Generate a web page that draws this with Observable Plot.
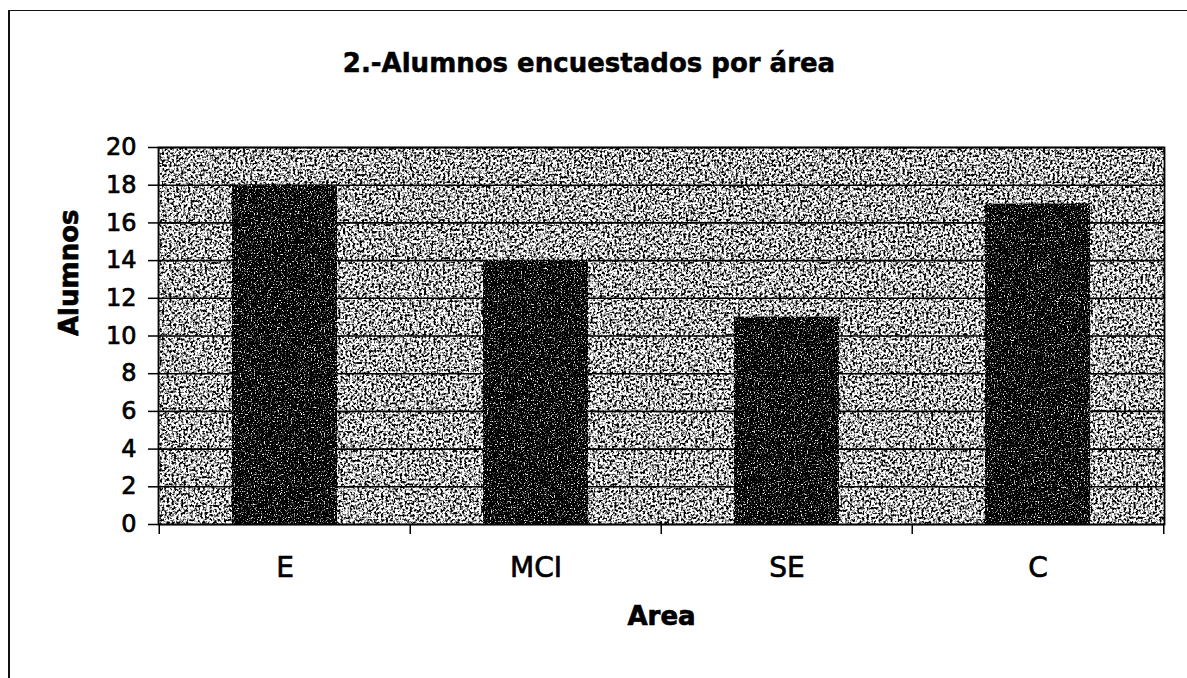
<!DOCTYPE html>
<html>
<head>
<meta charset="utf-8">
<script src="https://cdn.jsdelivr.net/npm/d3@7"></script>
<script src="https://cdn.jsdelivr.net/npm/@observablehq/plot@0.6"></script>
<style>
  html, body { margin: 0; padding: 0; background: white; }
  body { width: 1187px; height: 678px; position: relative; overflow: hidden; font-family: "DejaVu Sans", sans-serif; }
  #border { position: absolute; left: 8px; top: 10px; right: -10px; bottom: -10px; border-left: 2px solid #111; border-top: 1.5px solid #111; pointer-events: none; }
  #title { position: absolute; left: 0; top: 50px; width: 1178px; text-align: center; font-size: 26px; font-weight: bold; line-height: 1; color: #000; -webkit-text-stroke: 0.5px #000; }
  #chart { position: absolute; left: 0; top: 0; }
  #chart svg text { stroke: #000 !important; stroke-width: 0.7px !important; }
</style>
</head>
<body>
<div id="chart"></div>
<div id="title"></div>
<div id="border"></div>
<script>
const titleText = "2.-Alumnos encuestados por área";
const xLabel = "Area";
const yLabel = "Alumnos";
const categories = ["E", "MCI", "SE", "C"];
const alumnos = [18, 14, 11, 17];
const yTicks = [0, 2, 4, 6, 8, 10, 12, 14, 16, 18, 20];

document.getElementById("title").textContent = titleText;

const data = categories.map((c, i) => ({area: c, alumnos: alumnos[i]}));

const W = 1187, H = 678;
const mL = 158, mR = 23, mT = 147, mB = 154;
const step = (W - mL - mR) / categories.length;

const chart = Plot.plot({
  width: W,
  height: H,
  marginLeft: mL,
  marginRight: mR,
  marginTop: mT,
  marginBottom: mB,
  style: {fontFamily: "DejaVu Sans, sans-serif", background: "transparent", color: "#000"},
  x: {domain: categories, paddingInner: 0.583, paddingOuter: 0.2915, align: 0.5, axis: null, label: null},
  y: {domain: [0, 20], axis: null, label: null},
  marks: [
    Plot.frame({fill: "#8a8a8a", stroke: "none"}),
    Plot.ruleY(yTicks, {stroke: "#000", strokeWidth: 1.6}),
    Plot.barY(data, {x: "area", y: "alumnos", fill: "#1a1a1a"}),
    Plot.axisY({ticks: yTicks, tickSize: 10, tickPadding: 12, fontSize: 24, label: null, tickFormat: d => String(d), stroke: "#000", strokeWidth: 1.5}),
    Plot.axisX({tickSize: 0, tickPadding: 33, fontSize: 28, label: null}),
    Plot.ruleX(categories, {x: d => d, y1: 0, y2: 0, insetBottom: -10, dx: -step / 2, stroke: "#000", strokeWidth: 1.5}),
    Plot.ruleX(categories.slice(-1), {x: d => d, y1: 0, y2: 0, insetBottom: -10, dx: step / 2, stroke: "#000", strokeWidth: 1.5}),
    Plot.frame({stroke: "#000", strokeWidth: 1.8}),
    Plot.text([yLabel], {frameAnchor: "left", rotate: -90, dx: -89, fontSize: 26, fontWeight: "bold", fill: "#000"}),
    Plot.text([xLabel], {frameAnchor: "bottom", dy: 100, fontSize: 26, fontWeight: "bold", fill: "#000"})
  ]
});

document.getElementById("chart").appendChild(chart);

// Scanned-paper speckle texture for the plot background and the bars
const ns = "http://www.w3.org/2000/svg";
const defs = document.createElementNS(ns, "defs");
defs.innerHTML = `
  <filter id="bgNoise" color-interpolation-filters="sRGB">
    <feTurbulence type="fractalNoise" baseFrequency="0.42" numOctaves="2" seed="4" result="t"/>
    <feColorMatrix in="t" type="matrix" values="4.6 0 0 0 -1.6  4.6 0 0 0 -1.6  4.6 0 0 0 -1.6  0 0 0 0 1" result="g"/>
    <feComposite in="g" in2="SourceGraphic" operator="in"/>
  </filter>
  <filter id="barNoise" color-interpolation-filters="sRGB">
    <feTurbulence type="fractalNoise" baseFrequency="0.7" numOctaves="2" seed="9" result="t"/>
    <feColorMatrix in="t" type="matrix" values="5 0 0 0 -2.8  5 0 0 0 -2.8  5 0 0 0 -2.8  0 0 0 0 1" result="g"/>
    <feComposite in="g" in2="SourceGraphic" operator="in"/>
  </filter>`;
chart.insertBefore(defs, chart.firstChild);
const frames = chart.querySelectorAll('[aria-label="frame"]');
if (frames.length) {
  const r = frames[0].tagName.toLowerCase() === "rect" ? frames[0] : frames[0].querySelector("rect");
  if (r) r.setAttribute("filter", "url(#bgNoise)");
}
chart.querySelectorAll('[aria-label="bar"] rect').forEach(r => r.setAttribute("filter", "url(#barNoise)"));
</script>
</body>
</html>
